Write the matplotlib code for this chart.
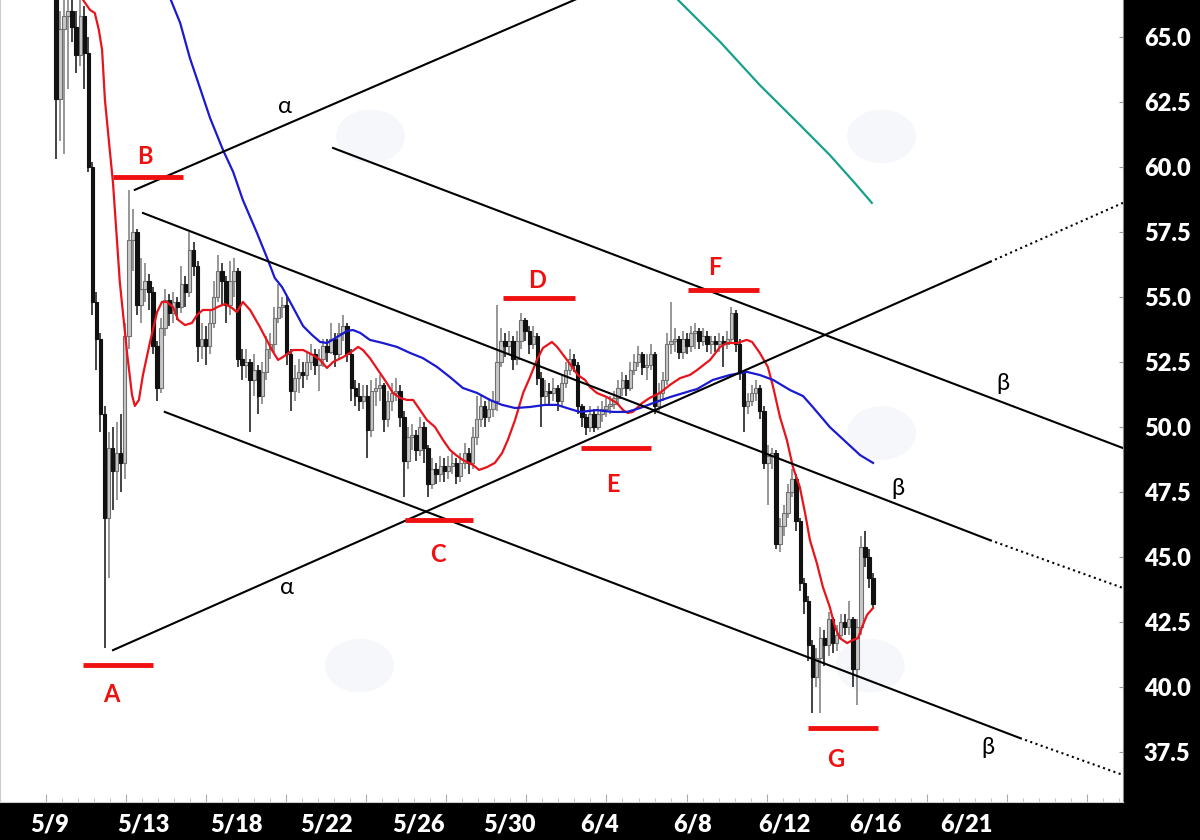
import numpy as np
import matplotlib
matplotlib.use("Agg")
import matplotlib.pyplot as plt
from matplotlib.patches import Ellipse

plt.rcParams['font.family'] = ['Lato', 'DejaVu Sans']

# candle data (one bar per index)
first_open = 66.6
closes = [62.6, 65.3, 65.8, 66.0, 65.4, 64.3, 65.8, 64.4, 60.0, 54.8,
          53.4, 50.5, 46.5, 49.2, 48.3, 49.0, 48.6, 53.5, 57.2, 57.5,
          54.7, 55.3, 55.6, 55.2, 53.1, 51.5, 53.8, 54.9, 54.4, 54.8,
          54.6, 55.5, 55.2, 56.8, 56.2, 53.1, 53.4, 53.1, 54.0, 55.0,
          56.0, 55.6, 54.7, 55.6, 56.0, 52.6, 52.4, 52.5, 51.8, 52.2,
          51.2, 52.1, 53.0, 53.2, 54.2, 54.6, 54.7, 52.8, 51.4, 51.9,
          52.1, 52.0, 52.5, 52.8, 52.4, 52.6, 53.1, 52.9, 53.4, 52.8,
          53.6, 53.9, 52.8, 51.5, 51.2, 51.0, 51.2, 49.9, 51.4, 51.5,
          51.6, 50.3, 51.0, 51.3, 51.4, 50.4, 48.7, 49.6, 49.7, 49.1,
          50.0, 49.2, 47.8, 48.4, 48.2, 48.5, 48.3, 48.5, 48.6, 48.1,
          48.6, 49.0, 48.6, 49.6, 50.3, 50.8, 50.4, 50.7, 51.0, 52.5,
          53.3, 53.1, 53.3, 52.6, 53.3, 54.1, 53.7, 53.2, 53.5, 51.9,
          51.2, 51.4, 51.3, 51.5, 51.0, 51.7, 52.2, 52.6, 52.4, 50.8,
          50.4, 50.0, 50.5, 50.0, 50.5, 50.7, 50.8, 50.9, 51.1, 51.5,
          51.8, 51.5, 52.2, 52.5, 52.8, 52.3, 52.4, 52.8, 50.8, 51.3,
          51.8, 53.2, 53.3, 53.4, 52.9, 53.4, 53.1, 53.6, 53.7, 53.3,
          53.5, 53.2, 53.3, 53.2, 53.3, 53.2, 53.4, 54.4, 53.2, 52.1,
          50.8, 51.0, 51.3, 51.5, 50.6, 48.6, 48.9, 49.0, 45.5, 46.2,
          46.7, 47.5, 48.0, 46.4, 44.0, 43.3, 41.6, 40.4, 41.1, 41.9,
          41.6, 42.6, 41.7, 42.0, 42.5, 42.3, 42.6, 40.7, 42.3, 45.4,
          45.0, 44.2, 43.2]
highs = [67.0, 66.0, 66.5, 66.8, 66.6, 66.0, 66.5, 66.2, 65.0, 60.2,
         55.2, 53.6, 50.8, 49.8, 50.0, 50.2, 50.5, 54.0, 59.1, 58.4,
         57.6, 56.5, 56.3, 55.9, 55.4, 53.3, 54.2, 55.3, 55.1, 55.2,
         55.0, 56.2, 55.8, 57.5, 57.1, 56.4, 54.0, 53.9, 54.5, 55.6,
         56.6, 56.3, 55.8, 56.4, 56.5, 56.1, 53.0, 53.0, 52.6, 52.8,
         52.4, 52.5, 53.5, 53.6, 54.6, 55.5, 55.0, 55.0, 53.0, 52.4,
         52.6, 52.5, 52.9, 53.2, 53.0, 53.0, 53.4, 53.4, 54.0, 53.6,
         54.0, 54.3, 54.0, 53.0, 51.8, 51.7, 51.6, 51.6, 51.8, 51.9,
         52.0, 51.7, 51.4, 51.7, 51.9, 51.6, 50.6, 50.0, 50.1, 49.9,
         50.4, 50.2, 49.3, 48.8, 48.6, 48.9, 48.8, 48.9, 49.0, 48.8,
         49.0, 49.4, 49.2, 50.0, 51.2, 51.2, 51.0, 51.1, 51.4, 54.7,
         53.8, 53.6, 53.7, 53.5, 53.7, 54.4, 54.2, 53.9, 53.9, 53.6,
         52.1, 51.8, 51.7, 51.9, 51.6, 52.0, 52.5, 53.0, 52.8, 52.5,
         50.9, 50.5, 50.8, 50.7, 50.8, 51.0, 51.1, 51.2, 51.4, 51.8,
         52.1, 52.0, 52.5, 52.8, 53.1, 52.9, 52.8, 53.2, 52.9, 51.7,
         52.1, 53.6, 54.8, 53.8, 53.5, 53.7, 53.6, 53.9, 54.0, 53.8,
         53.8, 53.7, 53.5, 53.5, 53.6, 53.5, 53.7, 54.6, 54.5, 53.4,
         52.2, 51.3, 51.6, 51.8, 51.6, 50.8, 49.3, 49.2, 49.1, 46.5,
         47.0, 47.8, 48.4, 48.2, 46.5, 44.2, 43.5, 41.8, 41.5, 42.3,
         42.2, 42.9, 42.7, 42.4, 42.8, 42.8, 43.3, 42.7, 42.6, 45.8,
         46.0, 45.3, 44.4]
lows = [60.3, 61.0, 60.5, 63.0, 64.8, 63.6, 63.9, 63.0, 59.8, 54.3,
        52.2, 49.8, 41.5, 44.2, 46.8, 47.2, 47.5, 48.0, 53.0, 56.0,
        54.3, 54.0, 54.8, 54.5, 52.8, 51.0, 51.3, 53.5, 53.9, 54.0,
        54.1, 54.4, 54.6, 55.0, 55.8, 52.5, 52.6, 52.4, 52.8, 53.8,
        54.8, 54.7, 54.0, 54.3, 55.0, 52.3, 51.8, 51.9, 49.8, 51.2,
        50.5, 50.9, 51.8, 52.6, 52.9, 54.0, 54.2, 52.4, 50.6, 51.0,
        51.3, 51.5, 51.8, 52.2, 52.0, 51.4, 52.3, 52.5, 52.8, 52.3,
        52.6, 53.3, 52.5, 51.0, 50.8, 50.6, 50.7, 48.8, 49.6, 50.8,
        51.0, 49.8, 50.0, 50.6, 51.0, 50.0, 47.3, 48.4, 49.1, 48.7,
        48.9, 48.6, 47.3, 47.6, 47.8, 47.9, 47.9, 48.0, 48.2, 47.8,
        47.9, 48.4, 48.2, 48.4, 49.3, 50.0, 50.0, 50.2, 50.4, 50.6,
        52.3, 52.7, 52.8, 52.2, 52.4, 53.0, 53.3, 52.8, 53.0, 51.6,
        50.0, 50.9, 50.8, 51.0, 50.6, 50.8, 51.5, 52.0, 52.1, 50.5,
        50.0, 49.7, 49.8, 49.8, 49.9, 50.2, 50.4, 50.5, 50.7, 50.9,
        51.2, 51.2, 51.4, 52.0, 52.3, 52.0, 51.8, 52.2, 50.5, 50.6,
        51.0, 51.6, 52.8, 52.9, 52.6, 52.6, 52.8, 52.9, 53.0, 53.0,
        53.1, 52.9, 52.8, 52.9, 52.9, 52.3, 53.0, 53.2, 52.9, 51.8,
        49.8, 50.5, 50.8, 51.0, 50.3, 48.4, 47.0, 48.4, 45.3, 45.2,
        45.8, 46.5, 47.3, 46.0, 43.7, 42.8, 41.0, 39.0, 40.0, 39.0,
        40.8, 41.2, 41.3, 41.4, 41.8, 42.0, 42.0, 40.0, 39.3, 42.0,
        44.6, 43.8, 43.0]

# moving averages as read (bar index, price)
red_x = [6.0, 6.7, 8.4, 9.6, 10.6, 11.4, 12.1, 13.3, 14.1, 15.8, 17.6, 18.8,
         19.5, 20.5, 21.5, 23.2, 25.0, 26.2, 27.4, 28.9, 30.2, 31.9, 33.6,
         34.9, 36.3, 38.6, 40.0, 41.8, 43.5, 44.7, 46.2, 48.0, 50.4, 53.4,
         54.9, 56.1, 58.6, 61.1, 63.5, 65.3, 67.0, 68.5, 71.0, 72.7, 74.7,
         75.9, 77.6, 80.1, 81.8, 83.3, 85.0, 86.8, 88.3, 89.5, 91.7, 93.7,
         95.7, 97.4, 98.9, 100.6, 103.1, 104.6, 106.6, 108.5, 110.3, 111.7,
         113.5, 115.5, 117.2, 118.9, 120.4, 122.6, 123.9, 125.8, 127.6,
         129.0, 130.8, 132.0, 133.7, 136.2, 138.7, 140.2, 141.4, 142.6,
         144.9, 146.8, 149.3, 151.8, 154.3, 156.7, 158.5, 161.7, 164.2,
         165.9, 168.4, 170.8, 172.1, 174.0, 176.0, 177.3, 179.0, 180.7,
         182.2, 183.9, 185.2, 186.4, 188.1, 189.6, 191.3, 192.6, 193.8,
         195.6, 197.0, 198.3, 199.3, 200.5, 202.0]
red_y = [66.8, 66.42, 66.04, 65.92, 65.27, 64.50, 62.58, 60.65, 59.38, 55.54,
         52.81, 51.23, 50.81, 51.04, 52.00, 53.23, 54.42, 54.81, 54.81,
         54.62, 54.12, 53.92, 54.00, 54.31, 54.50, 54.50, 54.62, 54.73,
         54.58, 54.42, 54.81, 54.50, 53.85, 52.96, 52.58, 52.69, 52.96,
         52.96, 52.77, 52.58, 52.27, 52.50, 52.69, 52.85, 53.08, 52.96,
         52.65, 52.08, 51.69, 51.31, 51.12, 51.04, 51.04, 50.77, 50.27,
         50.00, 49.50, 49.12, 48.92, 48.73, 48.54, 48.35, 48.46, 48.62,
         49.00, 49.50, 50.27, 51.31, 51.92, 52.58, 53.04, 53.27, 53.08,
         52.69, 52.31, 52.00, 51.81, 51.54, 51.31, 51.15, 50.92, 50.65,
         50.54, 50.58, 50.92, 51.12, 51.31, 51.62, 51.88, 52.00, 52.19,
         52.58, 53.08, 53.23, 53.23, 53.35, 53.27, 52.85, 52.31, 51.54,
         50.38, 49.50, 48.46, 47.69, 46.69, 45.65, 44.77, 43.85, 43.08,
         42.31, 41.88, 41.69, 41.81, 41.88, 42.31, 42.77, 43.04]
blue_x = [28.0, 28.4, 30.7, 33.1, 35.6, 38.1, 41.3, 43.8, 46.2, 49.7, 52.2,
          54.1, 55.9, 58.3, 61.1, 63.3, 65.3, 67.0, 69.5, 71.9, 73.4, 75.2,
          77.6, 80.8, 84.3, 87.5, 90.7, 94.2, 97.4, 100.6, 104.1, 107.3,
          110.3, 113.5, 117.2, 120.9, 123.9, 126.3, 129.5, 133.7, 137.7,
          141.2, 144.4, 147.6, 151.8, 156.7, 158.5, 162.4, 166.6, 170.8,
          174.0, 177.3, 181.5, 184.7, 187.1, 191.3, 195.6, 198.8, 202.0]
blue_y = [66.8, 66.42, 65.54, 64.19, 63.04, 61.88, 60.65, 59.81, 58.73,
          57.46, 56.50, 55.73, 55.38, 54.69, 53.88, 53.54, 53.27, 53.23,
          53.46, 53.69, 53.73, 53.62, 53.35, 53.23, 53.08, 52.85, 52.65,
          52.31, 51.92, 51.50, 51.31, 51.04, 50.85, 50.73, 50.77, 50.85,
          50.85, 50.73, 50.58, 50.65, 50.58, 50.58, 50.73, 50.92, 51.15,
          51.38, 51.46, 51.81, 52.00, 52.12, 52.00, 51.81, 51.42, 51.19,
          50.77, 50.00, 49.38, 48.92, 48.62]
teal_x = [152.5, 153.8, 164.2, 174.0, 183.9, 191.3, 197.5, 201.7]
teal_y = [66.8, 66.42, 64.81, 63.15, 61.62, 60.46, 59.38, 58.62]

# trend lines: (x0, y0, x1, y1), dotted extension end
alpha_upper = (19.5, 59.12, 135.0, 66.88)
alpha_lower = (14.1, 41.42, 230.9, 56.35)
alpha_lower_ext = (263.8, 58.62)
beta_lines = [(68.5, 60.73, 263.8, 49.19),
              (21.5, 58.23, 230.9, 45.65),
              (26.9, 50.58, 238.3, 38.04)]
beta_ext = [None, (263.8, 43.81), (263.8, 36.62)]

# pivot markers: label, x-start, x-end, level, label position
pivots = ['A', 'B', 'C', 'D', 'E', 'F', 'G']
pivot_x0 = [6.7, 14.1, 86.3, 110.5, 129.8, 156.2, 185.9]
pivot_x1 = [24.0, 31.4, 103.1, 128.3, 147.1, 173.8, 203.2]
pivot_lvl = [40.85, 59.62, 46.42, 54.96, 49.19, 55.27, 38.42]
pivot_lx = [13.8, 22.0, 94.4, 119.0, 137.7, 162.9, 192.8]
pivot_ly = [39.7, 60.4, 45.1, 55.65, 47.8, 56.15, 37.2]

greek = ['α', 'α', 'β', 'β', 'β']
greek_x = [56.6, 57.1, 234.1, 208.2, 230.4]
greek_y = [62.31, 43.81, 51.69, 47.65, 37.69]

date_pos = [-1.5, 21.5, 44.5, 67, 89.5, 112, 134.5, 157.5, 180, 202.5, 225]
date_labels = ['5/9', '5/13', '5/18', '5/22', '5/26', '5/30', '6/4',
               '6/8', '6/12', '6/16', '6/21']
price_ticks = [37.5, 40.0, 42.5, 45.0, 47.5, 50.0, 52.5, 55.0, 57.5,
               60.0, 62.5, 65.0]

fig = plt.figure(figsize=(12, 8.4), dpi=100, facecolor='black')
ax = fig.add_axes([0, 38 / 840, 1123 / 1200, 802 / 840])
ax.set_facecolor('white')
ax.set_xlim(-13.84, 263.8)
ax.set_ylim(35.58, 66.42)

# faint watermark blobs
for wx, wy in [(0.33, 0.83), (0.785, 0.83), (0.32, 0.17), (0.775, 0.17), (0.785, 0.46)]:
    ax.add_patch(Ellipse((wx, wy), 0.06, 0.065, transform=ax.transAxes,
                         color='#f5f7fb', zorder=0))

o = np.array([first_open] + closes[:-1])
c = np.array(closes)
h = np.array(highs)
l = np.array(lows)
x = np.arange(len(c))
up = c >= o
dn = ~up

ax.vlines(x[up], l[up], h[up], color='#7a7a7a', lw=1.1, zorder=2)
ax.vlines(x[dn], l[dn], h[dn], color='#111111', lw=1.1, zorder=2)
ax.bar(x[up], (c - o)[up], bottom=o[up], width=0.85, color='#c8c8c8',
       edgecolor='#707070', linewidth=0.8, zorder=3)
ax.bar(x[dn], (o - c)[dn], bottom=c[dn], width=0.85, color='#111111',
       edgecolor='#111111', linewidth=0.8, zorder=3)

ax.plot(red_x, red_y, color='#e8141c', lw=1.6, zorder=4)
ax.plot(blue_x, blue_y, color='#1a1ad0', lw=1.6, zorder=4)
ax.plot(teal_x, teal_y, color='#17a08a', lw=1.6, zorder=4)

# channel lines
ax.plot(alpha_upper[::2], alpha_upper[1::2], color='black', lw=1.5, zorder=5)
ax.plot(alpha_lower[::2], alpha_lower[1::2], color='black', lw=1.5, zorder=5)
ax.plot([alpha_lower[2], alpha_lower_ext[0]], [alpha_lower[3], alpha_lower_ext[1]],
        color='black', lw=1.5, ls=':', zorder=5)
for ln, ext in zip(beta_lines, beta_ext):
    ax.plot(ln[::2], ln[1::2], color='black', lw=1.5, zorder=5)
    if ext is not None:
        ax.plot([ln[2], ext[0]], [ln[3], ext[1]], color='black', lw=1.5,
                ls=':', zorder=5)

for name, x0, x1, lv, lx, ly in zip(pivots, pivot_x0, pivot_x1, pivot_lvl,
                                    pivot_lx, pivot_ly):
    ax.plot([x0, x1], [lv, lv], color='#f01010', lw=3.5, zorder=6,
            solid_capstyle='butt')
    ax.text(lx, ly, name, color='#f01010', fontsize=17, fontweight='bold',
            ha='center', va='center', zorder=6)

for g, gx, gy in zip(greek, greek_x, greek_y):
    ax.text(gx, gy, g, color='black', fontsize=17, ha='center', va='center',
            zorder=6)

# axes styling
ax.yaxis.tick_right()
ax.set_yticks(price_ticks, [f'{v:.1f}' for v in price_ticks])
ax.tick_params(axis='y', which='both', colors='#999999', direction='in',
               length=3, pad=15, labelcolor='white', labelsize=17)
for t in ax.get_yticklabels():
    t.set_fontweight('heavy')

ax.set_xticks(np.arange(-2.5, 264, 19.8))
ax.set_xticks(np.arange(-2.5, 264, 3.96), minor=True)
ax.tick_params(axis='x', which='major', direction='in', length=6,
               color='#aaaaaa', labelbottom=False)
ax.tick_params(axis='x', which='minor', direction='in', length=3,
               color='#bbbbbb')

sec = ax.secondary_xaxis('bottom')
sec.set_xticks(date_pos, date_labels)
sec.tick_params(length=0, pad=8, labelcolor='white', labelsize=17)
sec.spines['bottom'].set_visible(False)
for t in sec.get_xticklabels():
    t.set_fontweight('heavy')

ax.spines['top'].set_visible(False)
ax.spines['left'].set_color('#cccccc')
ax.spines['bottom'].set_color('#cccccc')
ax.spines['right'].set_color('#888888')

fig.savefig('out.png', dpi=100, facecolor='black')
